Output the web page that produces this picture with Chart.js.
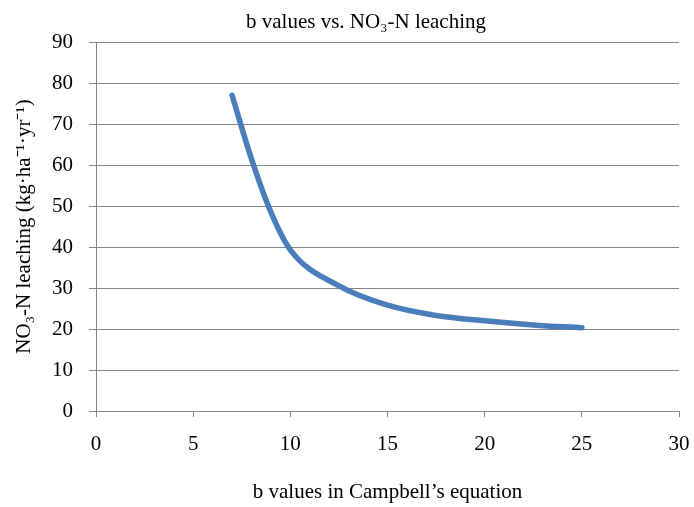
<!DOCTYPE html>
<html>
<head>
<meta charset="utf-8">
<script src="https://cdn.jsdelivr.net/npm/chart.js@4/dist/chart.umd.min.js"></script>
<style>
  html, body { margin: 0; padding: 0; background: #fff; }
  canvas { display: block; }
</style>
</head>
<body>
<canvas id="line-chart" width="694" height="507"></canvas>
<script>
// b values (Campbell's equation) and leaching
let bValues = [7, 8, 9, 10, 12.5, 15, 17.5, 20, 22.5, 25];
let leaching = [77, 61.5, 48.5, 39.3, 30.5, 25.8, 23.3, 22.0, 21.0, 20.3];

let xTicks = [0, 5, 10, 15, 20, 25, 30];
let yTicks = [0, 10, 20, 30, 40, 50, 60, 70, 80, 90];

let titleText = "b values vs. NO\u2083-N leaching";
let xTitle = "b values in Campbell\u2019s equation";
let yTitle = "NO\u2083-N leaching (kg\u00b7ha\u207b\u00b9\u00b7yr\u207b\u00b9)";

const serif = "'Liberation Serif', 'Times New Roman', serif";
const gridGray = "#868686";

let points = bValues.map((b, i) => ({ x: b, y: leaching[i] }));

// chart title sits a bit left of the plot centre in the original, so draw it by hand
const titlePlugin = {
    id: 'offsetTitle',
    afterDraw(chart) {
        const ctx = chart.ctx;
        ctx.save();
        ctx.font = "21px " + serif;
        ctx.fillStyle = '#000';
        ctx.textAlign = 'center';
        ctx.textBaseline = 'alphabetic';
        ctx.fillText(titleText, 366, 28);
        ctx.restore();
    }
};

const config = {
    type: 'line',
    data: {
        datasets: [{
            data: points,
            borderColor: '#4a7ebb',
            borderWidth: 5.5,
            borderCapStyle: 'round',
            borderJoinStyle: 'round',
            pointRadius: 0,
            fill: false,
            cubicInterpolationMode: 'monotone'
        }]
    },
    options: {
        responsive: false,
        animation: false,
        devicePixelRatio: 1,
        layout: { padding: { left: 0, right: 15, top: 42, bottom: 0 } },
        plugins: {
            legend: { display: false },
            tooltip: { enabled: false },
            title: { display: false }
        },
        scales: {
            x: {
                type: 'linear',
                min: 0,
                max: 30,
                afterBuildTicks: s => { s.ticks = xTicks.map(v => ({ value: v })); },
                afterFit: s => { s.height = 96; s.paddingLeft = 0; s.paddingRight = 0; },
                grid: { drawOnChartArea: false, color: gridGray, tickLength: 6, tickColor: gridGray },
                border: { color: gridGray, width: 1 },
                ticks: { color: '#000', font: { family: serif, size: 21 }, padding: 15, maxRotation: 0, autoSkip: false },
                title: {
                    display: true,
                    text: xTitle,
                    color: '#000',
                    font: { family: serif, size: 21 },
                    padding: { top: 20, bottom: 2 }
                }
            },
            y: {
                min: 0,
                max: 90,
                afterBuildTicks: s => { s.ticks = yTicks.map(v => ({ value: v })); },
                afterFit: s => { s.width = 96; },
                grid: { color: gridGray, tickLength: 7, tickColor: gridGray },
                border: { color: gridGray, width: 1 },
                ticks: { color: '#000', font: { family: serif, size: 21 }, padding: 16, autoSkip: false },
                title: {
                    display: true,
                    text: yTitle,
                    color: '#000',
                    font: { family: serif, size: 21 },
                    padding: { top: 12, bottom: 4 }
                }
            }
        }
    },
    plugins: [titlePlugin]
};

let myChart = new Chart(document.querySelector('#line-chart'), config);
</script>
</body>
</html>
